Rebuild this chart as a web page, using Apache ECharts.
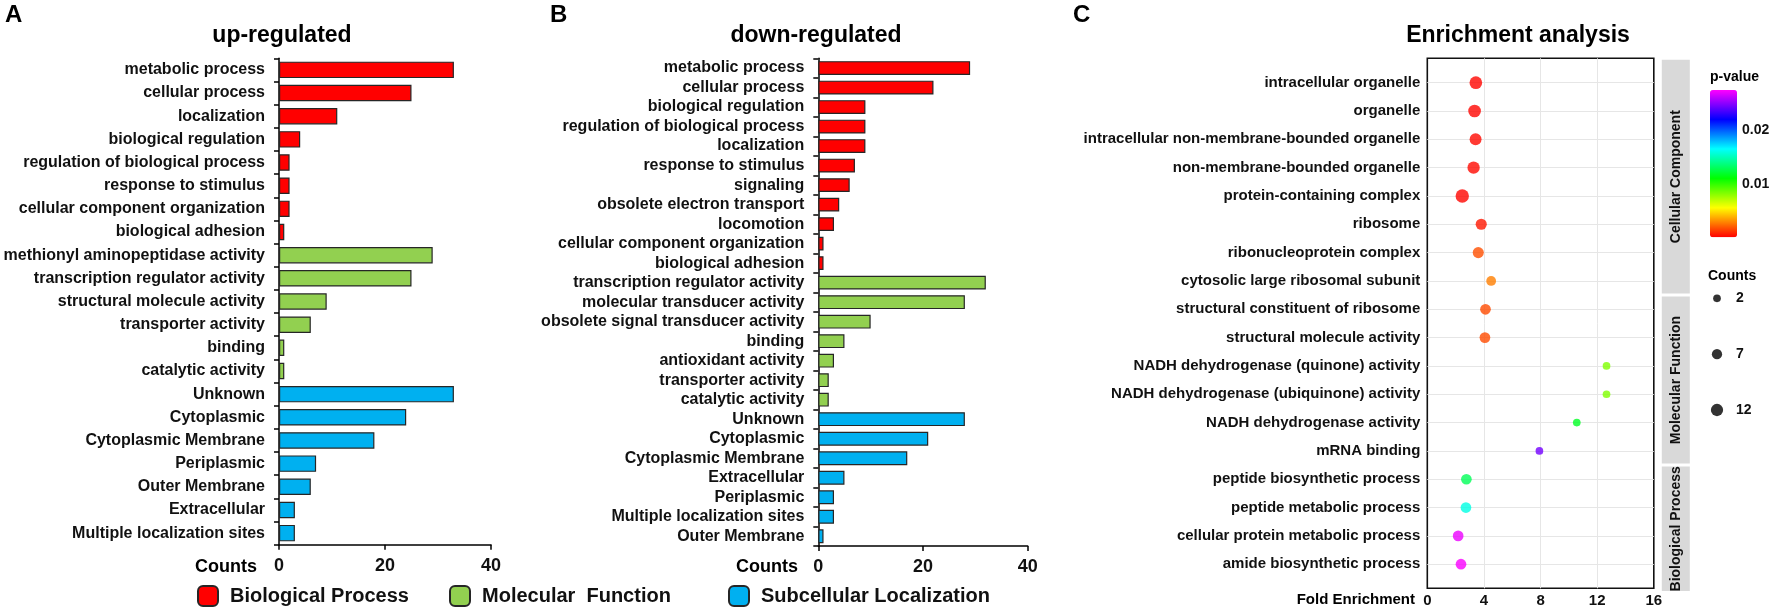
<!DOCTYPE html>
<html>
<head>
<meta charset="utf-8">
<script src="https://cdn.jsdelivr.net/npm/echarts@6/dist/echarts.min.js"></script>
<style>
  html, body { margin: 0; padding: 0; background: #fff; }
  #chart { width: 1772px; height: 611px; }
</style>
</head>
<body>
<div id="chart"></div>
<script>
// panel A: up-regulated
const upBioLabels = ['metabolic process', 'cellular process', 'localization', 'biological regulation',
  'regulation of biological process', 'response to stimulus', 'cellular component organization', 'biological adhesion'];
const upBioCounts = [33, 25, 11, 4, 2, 2, 2, 1];
const upMolLabels = ['methionyl aminopeptidase activity', 'transcription regulator activity',
  'structural molecule activity', 'transporter activity', 'binding', 'catalytic activity'];
const upMolCounts = [29, 25, 9, 6, 1, 1];
const upLocLabels = ['Unknown', 'Cytoplasmic', 'Cytoplasmic Membrane', 'Periplasmic', 'Outer Membrane',
  'Extracellular', 'Multiple localization sites'];
const upLocCounts = [33, 24, 18, 7, 6, 3, 3];

// panel B: down-regulated
const downBioLabels = ['metabolic process', 'cellular process', 'biological regulation',
  'regulation of biological process', 'localization', 'response to stimulus', 'signaling',
  'obsolete electron transport', 'locomotion', 'cellular component organization', 'biological adhesion'];
const downBioCounts = [29, 22, 9, 9, 9, 7, 6, 4, 3, 1, 1];
const downMolLabels = ['transcription regulator activity', 'molecular transducer activity',
  'obsolete signal transducer activity', 'binding', 'antioxidant activity', 'transporter activity', 'catalytic activity'];
const downMolCounts = [32, 28, 10, 5, 3, 2, 2];
const downLocLabels = ['Unknown', 'Cytoplasmic', 'Cytoplasmic Membrane', 'Extracellular', 'Periplasmic',
  'Multiple localization sites', 'Outer Membrane'];
const downLocCounts = [28, 21, 17, 5, 3, 3, 1];

const countTicks = [0, 20, 40];

// panel C: enrichment
const termLabels = ['intracellular organelle', 'organelle', 'intracellular non-membrane-bounded organelle',
  'non-membrane-bounded organelle', 'protein-containing complex', 'ribosome', 'ribonucleoprotein complex',
  'cytosolic large ribosomal subunit', 'structural constituent of ribosome', 'structural molecule activity',
  'NADH dehydrogenase (quinone) activity', 'NADH dehydrogenase (ubiquinone) activity',
  'NADH dehydrogenase activity', 'mRNA binding', 'peptide biosynthetic process', 'peptide metabolic process',
  'cellular protein metabolic process', 'amide biosynthetic process'];
const foldEnrichment = [3.43, 3.34, 3.41, 3.27, 2.47, 3.81, 3.60, 4.51, 4.11, 4.07, 12.66, 12.66, 10.56, 7.92,
  2.76, 2.73, 2.18, 2.38];
const termCounts = [13, 13, 11, 12, 15, 9, 9, 6, 8, 8, 2, 2, 2, 2, 8, 8, 8, 8];
const termPValues = [0.0002, 0.0002, 0.0003, 0.0003, 0.0002, 0.0006, 0.0018, 0.0028, 0.0017, 0.0017,
  0.0083, 0.0083, 0.0118, 0.0244, 0.0129, 0.0159, 0.0270, 0.0273];
const stripNames = ['Cellular Component', 'Molecular Function', 'Biological Process'];
const stripSizes = [8, 6, 4];
const legendCounts = [2, 7, 12];
const pValueTicks = [0.01, 0.02];

const FONT = 'Arial, "Liberation Sans", sans-serif';
const TXT = '#111';
const groupNames = ['Biological Process', 'Molecular  Function', 'Subcellular Localization'];
const groupColors = ['#ff0000', '#92d050', '#00b0f0'];

const Y_MIN = -0.86, Y_MAX = 17.85;
const dotSize = c => Math.sqrt(41 + 9.2 * c);

function padded(values, before, total) {
  const out = new Array(total).fill('-');
  values.forEach((v, i) => { out[before + i] = v; });
  return out;
}

function barPanel(gridIndex, stack, groups) {
  const total = groups.reduce((s, g) => s + g.length, 0);
  let cursor = 0;
  return groups.map((vals, g) => {
    const s = {
      type: 'bar', name: groupNames[g], stack,
      xAxisIndex: gridIndex, yAxisIndex: gridIndex,
      barWidth: '71%',
      data: padded(vals, cursor, total),
      itemStyle: { color: groupColors[g], borderColor: '#262626', borderWidth: 1.2 },
      emphasis: { disabled: true }
    };
    cursor += vals.length;
    return s;
  });
}

function catAxis(gridIndex, labels) {
  return {
    type: 'category', gridIndex, inverse: true, data: labels,
    axisLine: { show: true, lineStyle: { color: '#000', width: 1.5 } },
    axisTick: { show: true, length: 5, interval: 0, lineStyle: { color: '#000', width: 1.5 } },
    axisLabel: { interval: 0, margin: 14, color: TXT, fontFamily: FONT, fontWeight: 'bold', fontSize: 16 },
    splitLine: { show: false }
  };
}

function countAxis(gridIndex) {
  return {
    type: 'value', gridIndex, min: countTicks[0], max: countTicks[countTicks.length - 1], interval: 20,
    axisLine: { show: true, lineStyle: { color: '#000', width: 1.5 } },
    axisTick: { show: true, length: 5, lineStyle: { color: '#000', width: 1.5 } },
    axisLabel: { margin: 12, color: TXT, fontFamily: FONT, fontWeight: 'bold', fontSize: 18 },
    splitLine: { show: false }
  };
}

const upCategories = upBioLabels.concat(upMolLabels, upLocLabels);
const downCategories = downBioLabels.concat(downMolLabels, downLocLabels);

// facet strip ranges, in y-axis units
const stripRanges = [];
let cursor = 0;
stripSizes.forEach((n, g) => {
  const from = g === 0 ? Y_MIN : cursor - 0.5;
  const to = g === stripSizes.length - 1 ? Y_MAX + 0.15 : cursor + n - 0.5;
  stripRanges.push([from, to]);
  cursor += n;
});

const chart = echarts.init(document.getElementById('chart'));

const boldText = (text, x, y, size, align) => ({
  type: 'text', x, y,
  style: { text, fill: '#000', font: `bold ${size}px ${FONT}`, align: align || 'left', verticalAlign: 'middle' }
});

const option = {
  animation: false,
  backgroundColor: '#fff',
  textStyle: { fontFamily: FONT },
  grid: [
    { left: 279, top: 58.3, width: 212, height: 486.4, outerBoundsMode: 'none' },
    { left: 818.3, top: 58.3, width: 209.4, height: 487.7, outerBoundsMode: 'none' },
    { left: 1427.3, top: 58.3, width: 226.5, height: 530, outerBoundsMode: 'none',
      show: true, borderColor: '#111', borderWidth: 1.6, backgroundColor: 'transparent' },
    { left: 1710, top: 90, width: 27, height: 147.3, outerBoundsMode: 'none' },
    { left: 1707, top: 298.3, width: 20, height: 111.7, outerBoundsMode: 'none' }
  ],
  xAxis: [
    countAxis(0),
    countAxis(1),
    {
      type: 'value', gridIndex: 2, min: 0, max: 16, interval: 4,
      axisLine: { show: false }, axisTick: { show: false },
      axisLabel: { margin: 5, color: TXT, fontFamily: FONT, fontWeight: 'bold', fontSize: 15 },
      splitLine: { show: true, showMinLine: false, showMaxLine: false, lineStyle: { color: '#e6e6e6', width: 1 } }
    },
    { type: 'value', gridIndex: 3, show: false },
    { type: 'value', gridIndex: 4, min: -1, max: 1, show: false }
  ],
  yAxis: [
    catAxis(0, upCategories),
    catAxis(1, downCategories),
    {
      type: 'value', gridIndex: 2, min: Y_MIN, max: Y_MAX, inverse: true,
      axisLine: { show: false }, axisTick: { show: false }, splitLine: { show: false },
      axisLabel: {
        customValues: termLabels.map((_, i) => i),
        formatter: v => termLabels[v] || '',
        margin: 7, color: TXT, fontFamily: FONT, fontWeight: 'bold', fontSize: 15
      }
    },
    {
      type: 'value', gridIndex: 3, min: 0.0001, max: 0.0274, position: 'right',
      axisLine: { show: false }, axisTick: { show: false }, splitLine: { show: false },
      axisLabel: {
        customValues: pValueTicks, formatter: v => v.toFixed(2),
        margin: 5, color: TXT, fontFamily: FONT, fontWeight: 'bold', fontSize: 14
      }
    },
    {
      type: 'category', gridIndex: 4, data: legendCounts.map(String), boundaryGap: false, inverse: true,
      position: 'right',
      axisLine: { show: false }, axisTick: { show: false }, splitLine: { show: false },
      axisLabel: { margin: 9, color: TXT, fontFamily: FONT, fontWeight: 'bold', fontSize: 14 }
    }
  ],
  visualMap: {
    type: 'continuous', seriesIndex: 7, dimension: 3,
    min: 0.0001, max: 0.0274, calculable: false, hoverLink: false,
    left: 1710, top: 90, itemWidth: 27, itemHeight: 147.3, padding: 0, text: null,
    showLabel: false,
    inRange: { color: ['#ff0000', '#ffff00', '#00ff00', '#00ffff', '#0000ff', '#ff00ff'] }
  },
  legend: groupNames.map((name, g) => ({
    data: [name], left: [197, 449, 728][g], top: 585, padding: 0,
    icon: 'roundRect', itemWidth: 20, itemHeight: 20, selectedMode: false,
    textStyle: { color: TXT, fontFamily: FONT, fontWeight: 'bold', fontSize: 20, padding: [0, 0, 0, 7] }
  })),
  graphic: [
    boldText('A', 5, 15, 24),
    boldText('B', 550, 15, 24),
    boldText('C', 1073, 15, 24),
    boldText('up-regulated', 282, 36, 23, 'center'),
    boldText('down-regulated', 816, 36, 23, 'center'),
    boldText('Enrichment analysis', 1518, 36, 23, 'center'),
    boldText('Counts', 257, 567, 18, 'right'),
    boldText('Counts', 798, 567, 18, 'right'),
    boldText('Fold Enrichment', 1415, 599.5, 15, 'right'),
    boldText('p-value', 1710, 77, 14),
    boldText('Counts', 1708, 276, 14)
  ],
  series: [
    ...barPanel(0, 'up', [upBioCounts, upMolCounts, upLocCounts]),
    ...barPanel(1, 'down', [downBioCounts, downMolCounts, downLocCounts]),
    {
      type: 'line', xAxisIndex: 2, yAxisIndex: 2, data: [], z: 1, silent: true,
      markLine: {
        z: 1, silent: true, symbol: ['none', 'none'], label: { show: false }, animation: false,
        lineStyle: { color: '#e6e6e6', width: 1, type: 'solid' },
        emphasis: { disabled: true },
        data: termLabels.map((_, i) => ({ yAxis: i }))
      }
    },
    {
      type: 'scatter', xAxisIndex: 2, yAxisIndex: 2, z: 3,
      data: termLabels.map((_, i) => [foldEnrichment[i], i, termCounts[i], termPValues[i]]),
      symbolSize: v => dotSize(v[2]),
      emphasis: { disabled: true }
    },
    {
      type: 'custom', xAxisIndex: 2, yAxisIndex: 2, clip: false, silent: true,
      data: stripRanges,
      renderItem(params, api) {
        const top = api.coord([16, api.value(0)]);
        const bottom = api.coord([16, api.value(1)]);
        const x = top[0] + 8, w = 28;
        const y0 = top[1] + 1.5, y1 = bottom[1] - 1.5;
        return {
          type: 'group',
          children: [
            { type: 'rect', shape: { x, y: y0, width: w, height: y1 - y0 }, style: { fill: '#d9d9d9' } },
            {
              type: 'text', x: x + w / 2, y: (y0 + y1) / 2, rotation: Math.PI / 2,
              style: { text: stripNames[params.dataIndex], fill: TXT, font: `bold 14px ${FONT}`, align: 'center', verticalAlign: 'middle' }
            }
          ]
        };
      }
    },
    {
      type: 'scatter', xAxisIndex: 4, yAxisIndex: 4,
      data: legendCounts.map((c, i) => [0, i]),
      symbolSize: (v, p) => dotSize(legendCounts[p.dataIndex]),
      itemStyle: { color: '#000' },
      emphasis: { disabled: true }
    }
  ]
};

chart.setOption(option);
</script>
</body>
</html>
